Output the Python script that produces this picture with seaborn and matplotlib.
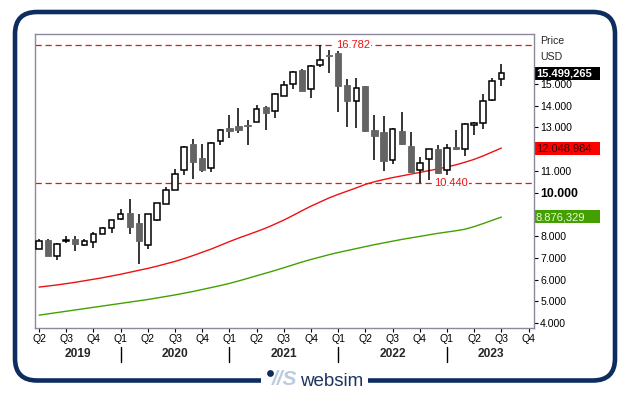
import numpy as np
import pandas as pd
import seaborn as sns
import matplotlib.pyplot as plt
from matplotlib.patches import Rectangle, FancyBboxPatch, Circle

# monthly candles, Apr 2019 .. Jul 2023
months = pd.period_range("2019-04", "2023-07", freq="M").astype(str).tolist()
opens = [7.43, 7.81, 7.09, 7.78, 7.86, 7.61, 7.75, 8.12, 8.39, 8.81, 9.05, 8.59,
         7.58, 8.76, 9.50, 10.14, 11.02, 12.22, 11.57, 11.15, 12.39, 12.95, 13.04, 13.10,
         13.26, 13.93, 13.74, 14.46, 15.00, 15.62, 14.74, 15.87, 16.33, 16.40, 14.95, 14.19,
         14.89, 12.86, 12.77, 11.48, 12.84, 12.16, 11.06, 11.56, 12.02, 11.02, 12.08, 12.02,
         13.09, 13.21, 14.27, 15.20]
highs = [7.85, 7.85, 7.68, 8.00, 7.99, 7.89, 8.19, 8.44, 8.75, 9.27, 9.72, 9.02,
         9.04, 9.54, 10.26, 11.07, 12.16, 12.45, 12.22, 12.31, 12.92, 13.55, 13.87, 13.32,
         14.05, 13.96, 14.59, 15.15, 15.61, 15.69, 15.86, 16.782, 16.56, 16.50, 15.23, 15.26,
         14.92, 13.55, 13.50, 12.98, 13.70, 12.78, 11.63, 12.02, 12.17, 12.23, 12.86, 13.20,
         13.23, 14.51, 15.28, 15.92]
lows = [7.40, 7.08, 6.89, 7.69, 7.32, 7.55, 7.46, 8.10, 8.15, 8.72, 8.12, 6.74,
        7.41, 8.68, 9.48, 10.10, 10.81, 10.62, 10.94, 10.94, 12.18, 12.50, 12.73, 12.17,
        13.24, 12.90, 13.44, 14.43, 14.77, 14.66, 14.36, 15.76, 15.50, 13.72, 13.01, 12.98,
        12.78, 11.48, 10.99, 11.33, 12.20, 10.92, 10.44, 10.60, 10.85, 10.80, 11.94, 11.67,
        12.67, 12.92, 14.20, 14.91]
closes = [7.77, 7.09, 7.66, 7.84, 7.64, 7.77, 8.10, 8.38, 8.72, 9.00, 8.42, 7.78,
          9.00, 9.52, 10.14, 10.87, 12.11, 11.40, 11.04, 12.26, 12.89, 12.85, 12.87, 13.08,
          13.85, 13.65, 14.54, 14.95, 15.53, 14.68, 15.84, 16.11, 16.27, 14.89, 14.22, 14.83,
          12.81, 12.60, 11.45, 12.92, 12.25, 10.94, 11.38, 12.00, 10.90, 12.06, 12.02, 13.17,
          13.21, 14.22, 15.14, 15.499]
ma_red = [5.66, 5.71, 5.76, 5.82, 5.88, 5.95, 6.02, 6.09, 6.17, 6.25, 6.34, 6.43,
          6.52, 6.62, 6.73, 6.84, 6.97, 7.11, 7.26, 7.41, 7.58, 7.75, 7.91, 8.06,
          8.21, 8.37, 8.55, 8.74, 8.95, 9.17, 9.38, 9.57, 9.76, 9.92, 10.07, 10.22,
          10.38, 10.50, 10.60, 10.69, 10.77, 10.85, 10.93, 11.01, 11.09, 11.18, 11.28, 11.40,
          11.53, 11.69, 11.87, 12.049]
ma_green = [4.37, 4.43, 4.49, 4.55, 4.61, 4.67, 4.73, 4.79, 4.85, 4.91, 4.97, 5.03,
            5.09, 5.16, 5.23, 5.30, 5.38, 5.46, 5.55, 5.64, 5.73, 5.83, 5.94, 6.06,
            6.18, 6.30, 6.42, 6.55, 6.68, 6.81, 6.93, 7.04, 7.15, 7.25, 7.34, 7.43,
            7.52, 7.61, 7.69, 7.77, 7.85, 7.92, 7.99, 8.06, 8.13, 8.19, 8.25, 8.32,
            8.44, 8.58, 8.73, 8.876]

quarter_labels = ["Q2", "Q3", "Q4", "Q1"] * 4 + ["Q2", "Q3", "Q4"]
years = ["2019", "2020", "2021", "2022", "2023"]
price_ticks = [4, 5, 6, 7, 8, 10, 11, 13, 14, 15]
price_tick_labels = ["4.000", "5.000", "6.000", "7.000", "8.000", "10.000",
                     "11.000", "13.000", "14.000", "15.000"]
high_mark, high_text = 16.782, "16.782"
low_mark, low_text = 10.440, "10.440"
last_text, red_text, green_text = "15.499,265", "12.048,984", "8.876,329"

NAVY = "#0c2d5e"
RED = "#ee1111"
GREEN = "#44a000"

sns.set_style("white")
plt.rcParams['font.family'] = ['Liberation Sans', 'DejaVu Sans']

df = pd.DataFrame({"month": months, "open": opens, "high": highs, "low": lows,
                   "close": closes, "ma_red": ma_red, "ma_green": ma_green})
df["idx"] = np.arange(len(df))

fig = plt.figure(figsize=(6.29, 3.95), dpi=100)

# background layer in pixel coordinates (frame, logo, value boxes)
bg = fig.add_axes([0, 0, 1, 1], zorder=0)
bg.set_xlim(0, 629)
bg.set_ylim(395, 0)
bg.axis("off")
bg.add_patch(FancyBboxPatch((15, 12), 600, 368.5, boxstyle="round,pad=0,rounding_size=22",
                            fill=False, edgecolor=NAVY, lw=3.3))
bg.add_patch(Rectangle((261, 372), 107, 16, facecolor="white", edgecolor="none"))
bg.add_patch(Circle((270.5, 373.5), 2.7, color=NAVY))
bg.text(272, 379.5, "//S", fontsize=15, fontstyle="italic", fontweight="bold",
        color="#bccbdd", va="center", ha="left")
bg.text(300.5, 381.5, "websim", fontsize=13.5, color="#1b3461", va="center", ha="left")

bg.text(540, 41, "Price", fontsize=7.6, va="center")
bg.text(540, 57, "USD", fontsize=7.6, va="center")
for y0, fc, tc, txt, wt in [(66.7, "black", "white", last_text, "bold"),
                             (141.7, "#ff0000", "#3a0000", red_text, "normal"),
                             (210.0, GREEN, "#eaf7e0", green_text, "normal")]:
    bg.add_patch(Rectangle((535, y0), 65, 13.4, facecolor=fc, edgecolor="none", zorder=5))
    bg.text(536, y0 + 7, txt, fontsize=8, color=tc, fontweight=wt, va="center",
            ha="left", zorder=6)

ax = fig.add_axes([35 / 629, 1 - 328 / 395, 499 / 629, 294 / 395], zorder=1)

sns.lineplot(data=df, x="idx", y="ma_red", color=RED, lw=1, ax=ax)
sns.lineplot(data=df, x="idx", y="ma_green", color=GREEN, lw=1, ax=ax)

up = df["close"] >= df["open"]
bottom = np.minimum(df["open"], df["close"])
height = np.maximum((df["close"] - df["open"]).abs(), 0.05)
ax.vlines(df["idx"], df["low"], df["high"], color="black", lw=1.1, zorder=3)
ax.bar(df["idx"][up], height[up], bottom=bottom[up], width=0.62,
       facecolor="white", edgecolor="black", lw=1.1, zorder=4)
ax.bar(df["idx"][~up], height[~up], bottom=bottom[~up], width=0.68,
       facecolor="#646464", edgecolor="#646464", lw=0.6, zorder=4)

for val, txt, xpos in [(high_mark, high_text, 34.6), (low_mark, low_text, 45.4)]:
    ax.axhline(val, color=RED, lw=0.9, dashes=(5, 3), zorder=2)
    ax.text(xpos, val, txt, color=RED, fontsize=8, ha="center", va="center", zorder=5,
            bbox=dict(facecolor="white", edgecolor="none", pad=1))

ax.set_xlim(-0.45, 54.6)
ax.set_ylim(3.78, 17.29)
ax.set_xlabel("")
ax.set_ylabel("")

ax.yaxis.tick_right()
ax.set_yticks(price_ticks)
ax.set_yticklabels(price_tick_labels)
ax.tick_params(axis="y", length=3, width=0.8, pad=1.5, labelsize=7.6, colors="black",
               left=False, right=True)
for lab in ax.get_yticklabels():
    if lab.get_text() == "10.000":
        lab.set_fontweight("bold")
        lab.set_fontsize(8.8)

ax.set_xticks(np.arange(0, 55, 3))
ax.set_xticklabels(quarter_labels)
ax.tick_params(axis="x", length=3, width=0.8, pad=1.5, labelsize=7.6, colors="black",
               bottom=True)

for sp in ax.spines.values():
    sp.set_color("#8a8a9c")
    sp.set_linewidth(1)

# years and separators under the quarter labels
xt = ax.get_xaxis_transform()
year_bounds = [-0.45, 9, 21, 33, 45, 54.6]
for i, yr in enumerate(years):
    ax.text((year_bounds[i] + year_bounds[i + 1]) / 2, -0.088, yr, transform=xt,
            ha="center", va="center", fontsize=8.6, fontweight="bold")
for sep in year_bounds[1:-1]:
    ax.plot([sep, sep], [-0.064, -0.117], transform=xt, color="black", lw=1, clip_on=False)

fig.savefig("out.png", dpi=100)
